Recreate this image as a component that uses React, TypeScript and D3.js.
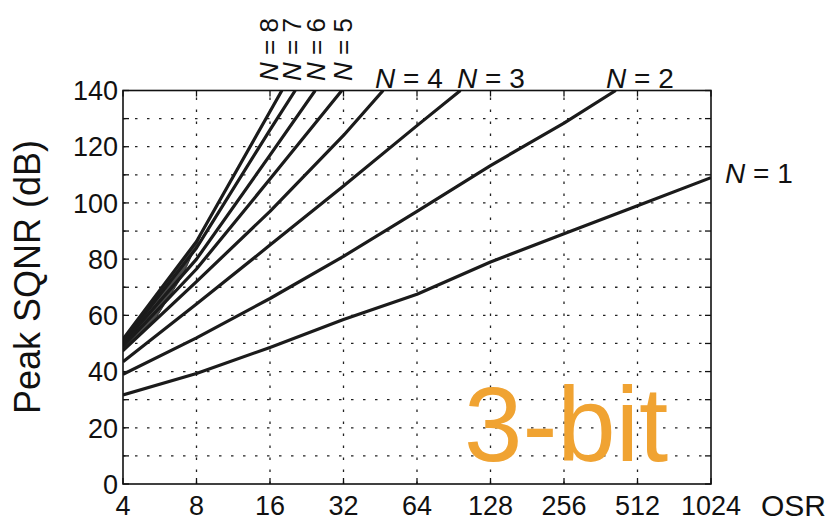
import React from "react";
import * as d3 from "d3";

// ---- data ----
const osrTicks = [4, 8, 16, 32, 64, 128, 256, 512, 1024];
const osrTickLabels = ["4", "8", "16", "32", "64", "128", "256", "512", "1024"];
const sqnrTicks = [0, 20, 40, 60, 80, 100, 120, 140];
const sqnrGrid = [10, 20, 30, 40, 50, 60, 70, 80, 90, 100, 110, 120, 130];

const osrN1 = [4, 8, 16, 32, 64, 128, 256, 512, 1024];
const sqnrN1 = [31.7, 39.3, 48.6, 58.5, 67.5, 79, 89, 99, 109];
const osrN2 = [4, 8, 16, 32, 64, 128, 256, 417];
const sqnrN2 = [39, 52, 66, 81, 97, 113.3, 128.4, 140];
const osrN3 = [4, 8, 16, 32, 64, 96.4];
const sqnrN3 = [43.5, 64, 85, 106, 127.5, 140];
const osrN4 = [4, 8, 16, 32, 46.5];
const sqnrN4 = [47.5, 72, 97, 124, 140];
const osrN5 = [4, 8, 16, 31.5];
const sqnrN5 = [49, 76.5, 108.5, 140];
const osrN6 = [4, 8, 16, 24.5];
const sqnrN6 = [50, 80, 117, 140];
const osrN7 = [4, 8, 16, 20.3];
const sqnrN7 = [50.5, 84, 126, 140];
const osrN8 = [4, 8, 16, 17.9];
const sqnrN8 = [51.5, 86.3, 132.5, 140];

// overlapping ink region of the high-order curves at low OSR
const wedgeOsr = [4, 5.5, 7, 8.3];
const wedgeTop = [51.5, 67.5, 79.7, 88.1];
const wedgeBottom = [47, 59.5, 74, 88];

const seriesOsr = [osrN1, osrN2, osrN3, osrN4, osrN5, osrN6, osrN7, osrN8];
const seriesSqnr = [sqnrN1, sqnrN2, sqnrN3, sqnrN4, sqnrN5, sqnrN6, sqnrN7, sqnrN8];

const W = 840;
const H = 521;
const L = 123, R = 711, T = 90.5, B = 484;
const FONT = "'Liberation Sans', Arial, Helvetica, sans-serif";
const INK = "#1b1b1b";

export default function App() {
  const x = d3.scaleLog().base(2).domain([4, 1024]).range([L, R]);
  const y = d3.scaleLinear().domain([0, 140]).range([B, T]);

  const line = d3
    .line<[number, number]>()
    .x((d) => x(d[0]))
    .y((d) => y(d[1]));

  const area = d3
    .area<[number, number, number]>()
    .x((d) => x(d[0]))
    .y0((d) => y(d[2]))
    .y1((d) => y(d[1]));

  const wedgeData = wedgeOsr.map((o, i) => [o, wedgeTop[i], wedgeBottom[i]] as [number, number, number]);

  const tick = 6;

  return (
    <svg
      width={W}
      height={H}
      viewBox={`0 0 ${W} ${H}`}
      style={{ position: "absolute", left: 0, top: 0, background: "#fff" }}
      fontFamily={FONT}
    >
      <rect x={0} y={0} width={W} height={H} fill="#fff" />
      <defs>
        <clipPath id="plot">
          <rect x={L} y={T} width={R - L} height={B - T} />
        </clipPath>
      </defs>

      {/* grid */}
      <g stroke="#222" strokeWidth={1.3} strokeDasharray="2.5,9.5">
        {osrTicks.slice(1, -1).map((o) => (
          <line key={"gx" + o} x1={x(o)} x2={x(o)} y1={B} y2={T} />
        ))}
        {sqnrGrid.map((v) => (
          <line key={"gy" + v} x1={L} x2={R} y1={y(v)} y2={y(v)} />
        ))}
      </g>

      {/* ticks */}
      <g stroke="#111" strokeWidth={1.3}>
        {osrTicks.map((o) => (
          <g key={"tx" + o}>
            <line x1={x(o)} x2={x(o)} y1={B} y2={B - tick} />
            <line x1={x(o)} x2={x(o)} y1={T} y2={T + tick} />
          </g>
        ))}
        {[0, ...sqnrGrid, 140].map((v) => (
          <g key={"ty" + v}>
            <line x1={L} x2={L + tick} y1={y(v)} y2={y(v)} />
            <line x1={R} x2={R - tick} y1={y(v)} y2={y(v)} />
          </g>
        ))}
      </g>

      {/* curves */}
      <g clipPath="url(#plot)">
        <path d={area(wedgeData) || ""} fill="#4a4a4a" stroke="#333" strokeWidth={1} />
        {seriesOsr.map((os, i) => (
          <path
            key={"s" + i}
            d={line(os.map((o, j) => [o, seriesSqnr[i][j]] as [number, number])) || ""}
            fill="none"
            stroke={INK}
            strokeWidth={3.2}
            strokeLinejoin="round"
          />
        ))}
      </g>

      {/* frame */}
      <rect x={L} y={T} width={R - L} height={B - T} fill="none" stroke="#111" strokeWidth={1.6} />

      {/* y tick labels */}
      <g fontSize={27} fill="#111" textAnchor="end">
        {sqnrTicks.map((v) => (
          <text key={"ly" + v} x={118} y={y(v)} dy="0.36em">
            {v}
          </text>
        ))}
      </g>

      {/* x tick labels */}
      <g fontSize={27} fill="#111" textAnchor="middle">
        {osrTicks.map((o, i) => (
          <text key={"lx" + o} x={x(o)} y={515}>
            {osrTickLabels[i]}
          </text>
        ))}
      </g>
      <text x={761} y={516} fontSize={30} fill="#111">
        OSR
      </text>

      {/* y title */}
      <text
        transform={`translate(40,277) rotate(-90)`}
        textAnchor="middle"
        fontSize={36}
        fill="#111"
      >
        Peak SQNR (dB)
      </text>

      {/* curve labels */}
      <g fontSize={28} fill="#111">
        <text x={725} y={183}>
          <tspan fontStyle="italic">N</tspan> = 1
        </text>
        <text x={606} y={88}>
          <tspan fontStyle="italic">N</tspan> = 2
        </text>
        <text x={457} y={88}>
          <tspan fontStyle="italic">N</tspan> = 3
        </text>
        <text x={375} y={88}>
          <tspan fontStyle="italic">N</tspan> = 4
        </text>
      </g>
      <g fontSize={26} fill="#111">
        {[
          ["8", 278],
          ["7", 300.5],
          ["6", 325],
          ["5", 351.5],
        ].map(([n, bx]) => (
          <text key={"v" + n} transform={`translate(${bx},81) rotate(-90)`}>
            <tspan fontStyle="italic">N</tspan> = {n}
          </text>
        ))}
      </g>

      {/* 3-bit annotation */}
      <text x={464} y={461} fontSize={105} fill="#F0A332">
        3-bit
      </text>
    </svg>
  );
}
